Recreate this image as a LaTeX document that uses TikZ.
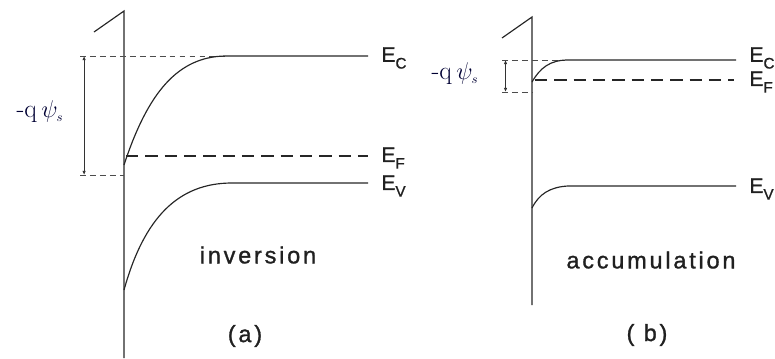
\documentclass[tikz,border=0pt]{standalone}
\usepackage{fontspec}
\setsansfont{Liberation Sans}
\usetikzlibrary{arrows.meta}

\newcommand{\elab}[1]{E\raisebox{-0.6ex}{\fontsize{13pt}{13pt}\selectfont #1}}

\tikzset{
  band/.style={line width=1pt, gray!30!black},
  guide/.style={line width=0.7pt, gray!60!black, dash pattern=on 5pt off 3.5pt},
  fermi/.style={line width=1pt, gray!30!black, dash pattern=on 10.5pt off 6pt},
  span/.style={line width=0.7pt, gray!40!black, {Latex[length=3.5pt,width=3pt]}-{Latex[length=3.5pt,width=3pt]}},
  level/.style={font=\sffamily\fontsize{18pt}{18pt}\selectfont\addfontfeature{FakeBold=1.2}, text=gray!25!black, anchor=west, inner sep=1pt},
  caption/.style={font=\sffamily\fontsize{20pt}{20pt}\selectfont\addfontfeature{LetterSpace=12,FakeBold=1.2}, text=gray!25!black},
  potential/.style={font=\fontsize{22pt}{22pt}\selectfont, text=black!80!blue}
}

\begin{document}
\begin{tikzpicture}[x=0.03cm, y=-0.03cm]
  \useasboundingbox (0,0) rectangle (775,358);

  % (a) inversion
  \draw[band] (94,32) -- (124,11) -- (124,358);
  \coordinate (aCtop) at (80,56);
  \coordinate (aCbot) at (80,175);
  \draw[guide] (aCtop) -- (225,56);
  \draw[guide] (aCbot) -- (124,175);
  \draw[band] (124,165) .. controls (148,92) and (178,57) .. (225,56) -- (368,56);
  \draw[fermi] (126,156) -- (368,156);
  \draw[band] (124,290) .. controls (144,218) and (178,183) .. (232,183) -- (368,183);
  \draw[span] ([xshift=3.5pt]aCtop) -- ([xshift=3.5pt]aCbot);

  \node[level] (aEc) at (380,58) {\elab{C}};
  \node[level] (aEf) at (380,158) {\elab{F}};
  \node[level] (aEv) at (380,186) {\elab{V}};
  \node[potential] (aPsi) at (40,112) {-q\,$\psi_{\scriptscriptstyle s}$};
  \node[caption] (aName) at (258,255) {inversion};
  \node[caption] (aTag) at (245,336) {(a)};

  % (b) accumulation
  \draw[band] (502,38) -- (532,17) -- (532,305);
  \coordinate (bCtop) at (502,60);
  \coordinate (bCbot) at (502,92);
  \draw[guide] (bCtop) -- (565,60);
  \draw[guide] (bCbot) -- (532,92);
  \draw[band] (532,82) .. controls (540,68) and (550,60) .. (568,60) -- (736,60);
  \draw[fermi] (535,80) -- (734,80);
  \draw[band] (532,208) .. controls (539,194) and (550,187) .. (568,186) -- (736,186);
  \draw[span] ([xshift=3pt]bCtop) -- ([xshift=3pt]bCbot);

  \node[level] (bEc) at (748,58) {\elab{C}};
  \node[level] (bEf) at (748,82) {\elab{F}};
  \node[level] (bEv) at (748,189) {\elab{V}};
  \node[potential] (bPsi) at (455,74) {-q\,$\psi_{\scriptscriptstyle s}$};
  \node[caption] (bName) at (651,260) {accumulation};
  \node[caption] (bTag) at (647,335) {( b)};
\end{tikzpicture}
\end{document}
